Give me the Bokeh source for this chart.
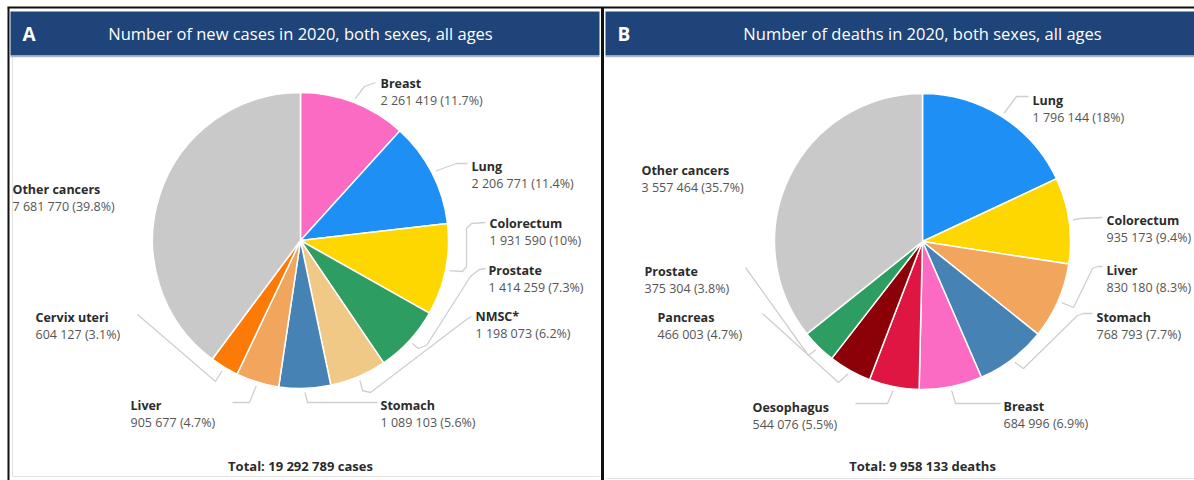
import numpy as np
from bokeh.plotting import figure
from bokeh.models import ColumnDataSource, Range1d
from bokeh.core.properties import value
from bokeh.embed import file_html
from bokeh.resources import INLINE

W, H = 1194, 480

# ---------------- data ----------------
cases_sites = ["Breast", "Lung", "Colorectum", "Prostate", "NMSC*", "Stomach",
               "Liver", "Cervix uteri", "Other cancers"]
cases_values = [2261419, 2206771, 1931590, 1414259, 1198073, 1089103,
                905677, 604127, 7681770]
cases_pct = [11.7, 11.4, 10, 7.3, 6.2, 5.6, 4.7, 3.1, 39.8]
cases_total = 19292789

deaths_sites = ["Lung", "Colorectum", "Liver", "Stomach", "Breast", "Oesophagus",
                "Pancreas", "Prostate", "Other cancers"]
deaths_values = [1796144, 935173, 830180, 768793, 684996, 544076,
                 466003, 375304, 3557464]
deaths_pct = [18, 9.4, 8.3, 7.7, 6.9, 5.5, 4.7, 3.8, 35.7]
deaths_total = 9958133

titles = ["Number of new cases in 2020, both sexes, all ages",
          "Number of deaths in 2020, both sexes, all ages"]
panel_letters = ["A", "B"]
total_words = ["cases", "deaths"]

# ---------------- styles ----------------
site_colors = {
    "Breast": "#fb6ac3", "Lung": "#1e8ff5", "Colorectum": "#fed600",
    "Prostate": "#2e9d62", "NMSC*": "#f0c987", "Stomach": "#4682b4",
    "Liver": "#f2a55c", "Cervix uteri": "#fc7a08", "Other cancers": "#c9c9c9",
    "Oesophagus": "#de1641", "Pancreas": "#8c0008",
}
NAVY = "#1e4479"
FONT = value("Open Sans")

# layout (pixel coordinates, y measured from top)
pieA = dict(cx=300, cy=240, r=148)
pieB = dict(cx=922, cy=241, r=148)
labA = [(380, 83), (471, 166), (489, 223), (488, 270), (475, 316),
        (380, 405), (130, 405), (35, 317), (12, 189)]
labB = [(1032, 100), (1106, 220), (1106, 270), (1096, 317), (1003, 406),
        (752, 407), (657, 317), (644, 271), (641, 170)]
viaA = [
    [(364, 86), (375, 82)],
    [(456, 163), (467, 163)],
    [(462, 271), (466, 266), (466, 228), (471, 223), (485, 222)],
    [(418, 348), (426, 345), (470, 276), (479, 269), (485, 268)],
    [(362, 390), (370, 392), (466, 319), (471, 316)],
    [(307, 402), (377, 402)],
    [(249, 402), (232, 402)],
    [(215, 381), (137, 314)],
    [],
]
viaB = [
    [(1016, 96), (1028, 96)],
    [(1080, 218), (1102, 217)],
    [(1073, 307), (1092, 268), (1097, 266), (1102, 266)],
    [(1023, 368), (1077, 315), (1083, 313), (1092, 313)],
    [(955, 403), (1000, 403)],
    [(887, 403), (855, 403)],
    [(838, 382), (762, 313)],
    [(808, 355), (745, 267)],
    [],
]


def Y(py):
    return H - py


def fmt_num(v):
    return f"{v:,}".replace(",", " ")


def fmt_pct(p):
    s = f"{p:g}"
    return s + "%"


p = figure(width=W, height=H, x_range=Range1d(0, W), y_range=Range1d(0, H),
           toolbar_location=None, output_backend="svg", min_border=0,
           x_axis_type=None, y_axis_type=None, background_fill_color="white",
           border_fill_color="white")
p.grid.visible = False
p.outline_line_color = None

# frame lines
p.segment(x0=[7, 8, 602], y0=[Y(7), Y(7), Y(7)], x1=[W, 8, 602], y1=[Y(7), 0, 0],
          line_color="#111111", line_width=[2, 2, 3])
p.segment(x0=[12, 12, 606], y0=[Y(476), Y(10), Y(478)], x1=[599, 12, W],
          y1=[Y(476), Y(476), Y(478)], line_color="#e2e2e2", line_width=1)

# headers
p.quad(left=[10, 605], right=[599, W], top=[Y(11), Y(11)], bottom=[Y(55), Y(55)],
       fill_color=NAVY, line_color=None)
p.segment(x0=[10, 605], y0=[Y(56), Y(56)], x1=[599, W], y1=[Y(56), Y(56)],
          line_color="#aab8cc", line_width=1.5)
p.text(x=[22, 617], y=[Y(33), Y(33)], text=panel_letters, text_font=FONT,
       text_font_style="bold", text_font_size="19px", text_color="white",
       text_baseline="middle", text_align="left")
p.text(x=[300, 922], y=[Y(33), Y(33)], text=titles, text_font=FONT,
       text_font_size="16.5px", text_color="white",
       text_baseline="middle", text_align="center")


def draw_pie(sites, vals, pcts, total, word, pie, labs, vias):
    vals = np.array(vals, dtype=float)
    frac = vals / vals.sum()
    cum = np.concatenate([[0], np.cumsum(frac)])
    start = np.pi / 2 - 2 * np.pi * cum[1:]
    end = np.pi / 2 - 2 * np.pi * cum[:-1]
    cx, cy, r = pie["cx"], pie["cy"], pie["r"]
    src = ColumnDataSource(dict(
        x=[cx] * len(sites), y=[Y(cy)] * len(sites), start=start, end=end,
        color=[site_colors[s] for s in sites]))
    p.wedge(x="x", y="y", radius=r, radius_units="screen", start_angle="start",
            end_angle="end", direction="anticlock", fill_color="color",
            line_color="white", line_width=1.5, source=src)

    # leader lines
    mid = 2 * np.pi * (cum[:-1] + cum[1:]) / 2
    xs, ys = [], []
    for m, via in zip(mid, vias):
        if not via:
            continue
        sx = cx + (r + 4) * np.sin(m)
        sy = cy - (r + 4) * np.cos(m)
        pts = [(sx, sy)] + via
        xs.append([q[0] for q in pts])
        ys.append([Y(q[1]) for q in pts])
    p.multi_line(xs=xs, ys=ys, line_color="#cfcfcf", line_width=1.3)

    # labels
    lx = [l[0] for l in labs]
    ly = [Y(l[1]) for l in labs]
    ly2 = [Y(l[1] + 17) for l in labs]
    p.text(x=lx, y=ly, text=sites, text_font=FONT, text_font_style="bold",
           text_font_size="12.5px", text_color="#2b2b2b",
           text_baseline="middle", text_align="left")
    p.text(x=lx, y=ly2,
           text=[f"{fmt_num(int(v))} ({fmt_pct(q)})" for v, q in zip(vals, pcts)],
           text_font=FONT, text_font_size="12.5px", text_color="#555555",
           text_baseline="middle", text_align="left")
    p.text(x=[cx], y=[Y(465)], text=[f"Total: {fmt_num(total)} {word}"],
           text_font=FONT, text_font_style="bold", text_font_size="13px",
           text_color="#2b2b2b", text_baseline="middle", text_align="center")


draw_pie(cases_sites, cases_values, cases_pct, cases_total, total_words[0],
         pieA, labA, viaA)
draw_pie(deaths_sites, deaths_values, deaths_pct, deaths_total, total_words[1],
         pieB, labB, viaB)

open("out.html", "w").write(file_html(p, INLINE))
